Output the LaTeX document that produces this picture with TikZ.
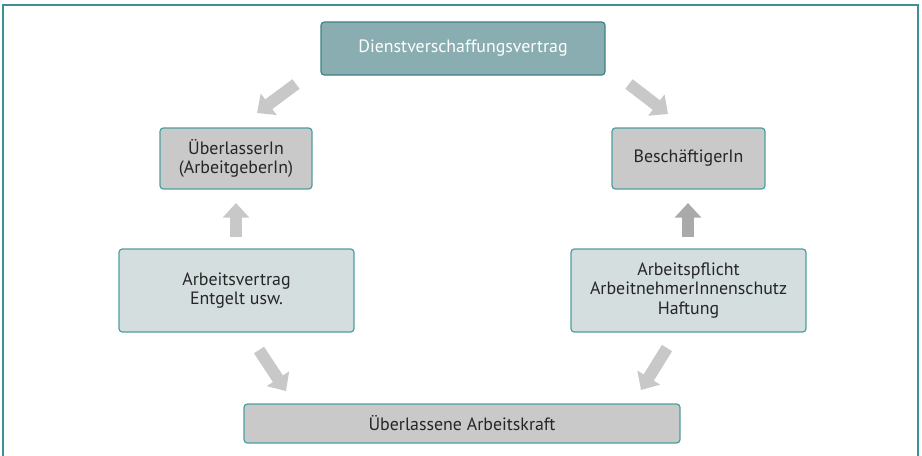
\documentclass[tikz,border=0pt]{standalone}
\usepackage{fontspec}
\setmainfont{PT Sans}
\usetikzlibrary{arrows.meta}
\definecolor{frameteal}{HTML}{3A9296}
\definecolor{boxedge}{HTML}{4E9EA0}
\definecolor{topfill}{HTML}{89ADB0}
\definecolor{topedge}{HTML}{3D8387}
\definecolor{grayfill}{HTML}{C9C9C9}
\definecolor{lightfill}{HTML}{D4DEDF}
\definecolor{arrowgray}{HTML}{C8C8C8}
\definecolor{arrowdark}{HTML}{AAAAAA}
\tikzset{
  box/.style={draw=boxedge, line width=0.9pt, rounded corners=2.5pt, align=center, inner sep=0pt, font=\fontsize{13.4}{14.6}\selectfont, text=black!85},
  topbox/.style={box, draw=topedge, fill=topfill, text=white},
  graybox/.style={box, fill=grayfill},
  lightbox/.style={box, fill=lightfill},
  blockarrow/.style={line width=9pt, draw=arrowgray, -{Triangle[width=19.5pt,length=11pt]}},
}
\begin{document}
\begin{tikzpicture}[x=0.75pt,y=-0.75pt]
\useasboundingbox (0,0) rectangle (922,455);
\begin{scope}
\clip (0,0) rectangle (922,455);
\draw[frameteal, line width=1.2pt] (3,5) rectangle (918,480);
\end{scope}
\node[topbox, minimum width=213pt, minimum height=39.75pt] (dv) at (463,48.5) {Dienstverschaffungsvertrag};
\node[graybox, minimum width=114pt, minimum height=45.75pt] (ue) at (236,158.5) {ÜberlasserIn\\(ArbeitgeberIn)};
\node[graybox, minimum width=114.75pt, minimum height=45.75pt] (be) at (688.5,158.5) {BeschäftigerIn};
\node[lightbox, minimum width=176.25pt, minimum height=62.25pt] (av) at (236.5,290.5) {Arbeitsvertrag\\Entgelt usw.};
\node[lightbox, minimum width=176.25pt, minimum height=62.25pt] (ap) at (688.5,290.5) {Arbeitspflicht\\ArbeitnehmerInnenschutz\\Haftung};
\node[graybox, minimum width=327pt, minimum height=29.25pt] (ua) at (462,423.5) {Überlassene Arbeitskraft};
\coordinate (a1s) at (296,84);
\coordinate (a1e) at (257,113);
\coordinate (a2s) at (629,84);
\coordinate (a2e) at (668,114);
\coordinate (a3s) at (236,237);
\coordinate (a3e) at (236,203);
\coordinate (a4s) at (688,237);
\coordinate (a4e) at (688,203);
\coordinate (a5s) at (259,350);
\coordinate (a5e) at (286,391);
\coordinate (a6s) at (667,348);
\coordinate (a6e) at (641,390);
\draw[blockarrow] (a1s) -- (a1e);
\draw[blockarrow] (a2s) -- (a2e);
\draw[blockarrow] (a3s) -- (a3e);
\draw[blockarrow, draw=arrowdark] (a4s) -- (a4e);
\draw[blockarrow] (a5s) -- (a5e);
\draw[blockarrow] (a6s) -- (a6e);
\end{tikzpicture}
\end{document}
